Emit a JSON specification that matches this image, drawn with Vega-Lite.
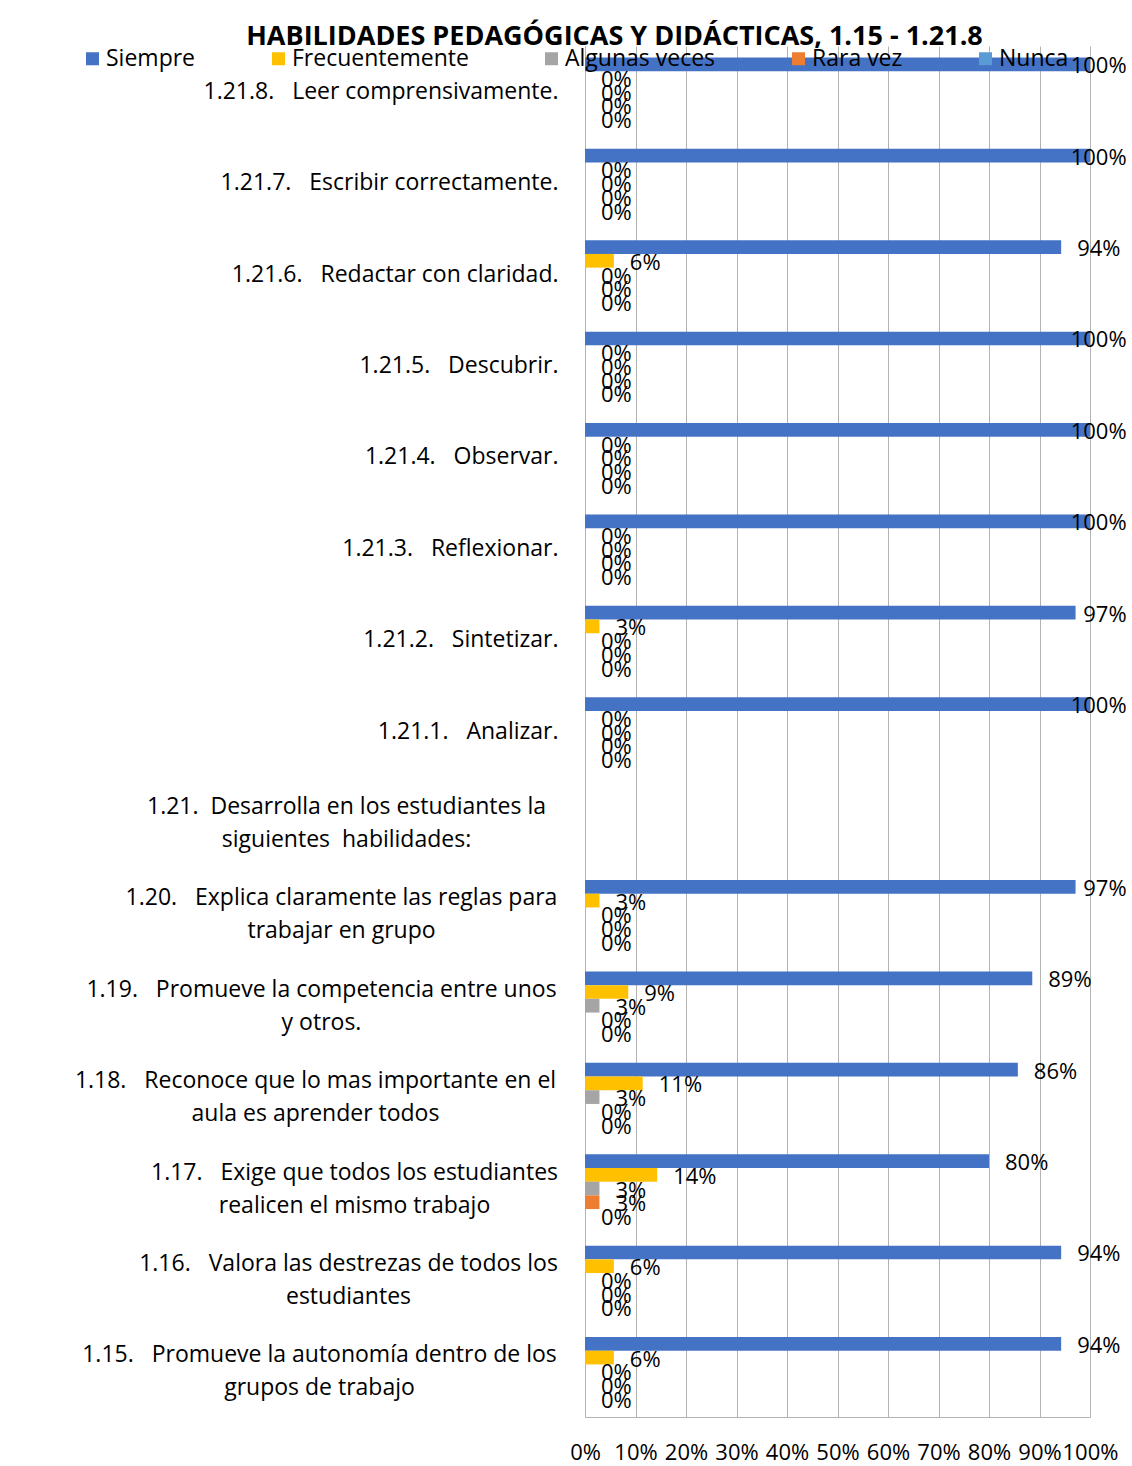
{
  "$schema": "https://vega.github.io/schema/vega-lite/v6.json",
  "width": 505,
  "height": 1371,
  "autosize": {"type": "none"},
  "padding": {"left": 585, "top": 46, "right": 42, "bottom": 49},
  "background": "white",
  "config": {"font": "Open Sans", "view": {"stroke": null}},
  "title": {
    "text": "HABILIDADES PEDAGÓGICAS Y DIDÁCTICAS, 1.15 - 1.21.8",
    "font": "Open Sans", "fontSize": 27, "fontWeight": "bold", "color": "black",
    "anchor": "middle", "frame": "group", "dx": -223, "offset": -5
  },
  "data": {"values": [
    {"c": "1.21.8.\u00a0\u00a0\u00a0Leer comprensivamente.", "s": "Siempre", "v": 1.0},
    {"c": "1.21.8.\u00a0\u00a0\u00a0Leer comprensivamente.", "s": "Frecuentemente", "v": 0},
    {"c": "1.21.8.\u00a0\u00a0\u00a0Leer comprensivamente.", "s": "Algunas veces", "v": 0},
    {"c": "1.21.8.\u00a0\u00a0\u00a0Leer comprensivamente.", "s": "Rara vez", "v": 0},
    {"c": "1.21.8.\u00a0\u00a0\u00a0Leer comprensivamente.", "s": "Nunca", "v": 0},
    {"c": "1.21.7.\u00a0\u00a0\u00a0Escribir correctamente.", "s": "Siempre", "v": 1.0},
    {"c": "1.21.7.\u00a0\u00a0\u00a0Escribir correctamente.", "s": "Frecuentemente", "v": 0},
    {"c": "1.21.7.\u00a0\u00a0\u00a0Escribir correctamente.", "s": "Algunas veces", "v": 0},
    {"c": "1.21.7.\u00a0\u00a0\u00a0Escribir correctamente.", "s": "Rara vez", "v": 0},
    {"c": "1.21.7.\u00a0\u00a0\u00a0Escribir correctamente.", "s": "Nunca", "v": 0},
    {"c": "1.21.6.\u00a0\u00a0\u00a0Redactar con claridad.", "s": "Siempre", "v": 0.9429},
    {"c": "1.21.6.\u00a0\u00a0\u00a0Redactar con claridad.", "s": "Frecuentemente", "v": 0.0571},
    {"c": "1.21.6.\u00a0\u00a0\u00a0Redactar con claridad.", "s": "Algunas veces", "v": 0},
    {"c": "1.21.6.\u00a0\u00a0\u00a0Redactar con claridad.", "s": "Rara vez", "v": 0},
    {"c": "1.21.6.\u00a0\u00a0\u00a0Redactar con claridad.", "s": "Nunca", "v": 0},
    {"c": "1.21.5.\u00a0\u00a0\u00a0Descubrir.", "s": "Siempre", "v": 1.0},
    {"c": "1.21.5.\u00a0\u00a0\u00a0Descubrir.", "s": "Frecuentemente", "v": 0},
    {"c": "1.21.5.\u00a0\u00a0\u00a0Descubrir.", "s": "Algunas veces", "v": 0},
    {"c": "1.21.5.\u00a0\u00a0\u00a0Descubrir.", "s": "Rara vez", "v": 0},
    {"c": "1.21.5.\u00a0\u00a0\u00a0Descubrir.", "s": "Nunca", "v": 0},
    {"c": "1.21.4.\u00a0\u00a0\u00a0Observar.", "s": "Siempre", "v": 1.0},
    {"c": "1.21.4.\u00a0\u00a0\u00a0Observar.", "s": "Frecuentemente", "v": 0},
    {"c": "1.21.4.\u00a0\u00a0\u00a0Observar.", "s": "Algunas veces", "v": 0},
    {"c": "1.21.4.\u00a0\u00a0\u00a0Observar.", "s": "Rara vez", "v": 0},
    {"c": "1.21.4.\u00a0\u00a0\u00a0Observar.", "s": "Nunca", "v": 0},
    {"c": "1.21.3.\u00a0\u00a0\u00a0Reflexionar.", "s": "Siempre", "v": 1.0},
    {"c": "1.21.3.\u00a0\u00a0\u00a0Reflexionar.", "s": "Frecuentemente", "v": 0},
    {"c": "1.21.3.\u00a0\u00a0\u00a0Reflexionar.", "s": "Algunas veces", "v": 0},
    {"c": "1.21.3.\u00a0\u00a0\u00a0Reflexionar.", "s": "Rara vez", "v": 0},
    {"c": "1.21.3.\u00a0\u00a0\u00a0Reflexionar.", "s": "Nunca", "v": 0},
    {"c": "1.21.2.\u00a0\u00a0\u00a0Sintetizar.", "s": "Siempre", "v": 0.9714},
    {"c": "1.21.2.\u00a0\u00a0\u00a0Sintetizar.", "s": "Frecuentemente", "v": 0.0286},
    {"c": "1.21.2.\u00a0\u00a0\u00a0Sintetizar.", "s": "Algunas veces", "v": 0},
    {"c": "1.21.2.\u00a0\u00a0\u00a0Sintetizar.", "s": "Rara vez", "v": 0},
    {"c": "1.21.2.\u00a0\u00a0\u00a0Sintetizar.", "s": "Nunca", "v": 0},
    {"c": "1.21.1.\u00a0\u00a0\u00a0Analizar.", "s": "Siempre", "v": 1.0},
    {"c": "1.21.1.\u00a0\u00a0\u00a0Analizar.", "s": "Frecuentemente", "v": 0},
    {"c": "1.21.1.\u00a0\u00a0\u00a0Analizar.", "s": "Algunas veces", "v": 0},
    {"c": "1.21.1.\u00a0\u00a0\u00a0Analizar.", "s": "Rara vez", "v": 0},
    {"c": "1.21.1.\u00a0\u00a0\u00a0Analizar.", "s": "Nunca", "v": 0},
    {"c": "1.20.\u00a0\u00a0\u00a0Explica claramente las reglas para\ntrabajar en grupo", "s": "Siempre", "v": 0.9714},
    {"c": "1.20.\u00a0\u00a0\u00a0Explica claramente las reglas para\ntrabajar en grupo", "s": "Frecuentemente", "v": 0.0286},
    {"c": "1.20.\u00a0\u00a0\u00a0Explica claramente las reglas para\ntrabajar en grupo", "s": "Algunas veces", "v": 0},
    {"c": "1.20.\u00a0\u00a0\u00a0Explica claramente las reglas para\ntrabajar en grupo", "s": "Rara vez", "v": 0},
    {"c": "1.20.\u00a0\u00a0\u00a0Explica claramente las reglas para\ntrabajar en grupo", "s": "Nunca", "v": 0},
    {"c": "1.19.\u00a0\u00a0\u00a0Promueve la competencia entre unos\ny otros.", "s": "Siempre", "v": 0.8857},
    {"c": "1.19.\u00a0\u00a0\u00a0Promueve la competencia entre unos\ny otros.", "s": "Frecuentemente", "v": 0.0857},
    {"c": "1.19.\u00a0\u00a0\u00a0Promueve la competencia entre unos\ny otros.", "s": "Algunas veces", "v": 0.0286},
    {"c": "1.19.\u00a0\u00a0\u00a0Promueve la competencia entre unos\ny otros.", "s": "Rara vez", "v": 0},
    {"c": "1.19.\u00a0\u00a0\u00a0Promueve la competencia entre unos\ny otros.", "s": "Nunca", "v": 0},
    {"c": "1.18.\u00a0\u00a0\u00a0Reconoce que lo mas importante en el\naula es aprender todos", "s": "Siempre", "v": 0.8571},
    {"c": "1.18.\u00a0\u00a0\u00a0Reconoce que lo mas importante en el\naula es aprender todos", "s": "Frecuentemente", "v": 0.1143},
    {"c": "1.18.\u00a0\u00a0\u00a0Reconoce que lo mas importante en el\naula es aprender todos", "s": "Algunas veces", "v": 0.0286},
    {"c": "1.18.\u00a0\u00a0\u00a0Reconoce que lo mas importante en el\naula es aprender todos", "s": "Rara vez", "v": 0},
    {"c": "1.18.\u00a0\u00a0\u00a0Reconoce que lo mas importante en el\naula es aprender todos", "s": "Nunca", "v": 0},
    {"c": "1.17.\u00a0\u00a0\u00a0Exige que todos los estudiantes\nrealicen el mismo trabajo", "s": "Siempre", "v": 0.8},
    {"c": "1.17.\u00a0\u00a0\u00a0Exige que todos los estudiantes\nrealicen el mismo trabajo", "s": "Frecuentemente", "v": 0.1429},
    {"c": "1.17.\u00a0\u00a0\u00a0Exige que todos los estudiantes\nrealicen el mismo trabajo", "s": "Algunas veces", "v": 0.0286},
    {"c": "1.17.\u00a0\u00a0\u00a0Exige que todos los estudiantes\nrealicen el mismo trabajo", "s": "Rara vez", "v": 0.0286},
    {"c": "1.17.\u00a0\u00a0\u00a0Exige que todos los estudiantes\nrealicen el mismo trabajo", "s": "Nunca", "v": 0},
    {"c": "1.16.\u00a0\u00a0\u00a0Valora las destrezas de todos los\nestudiantes", "s": "Siempre", "v": 0.9429},
    {"c": "1.16.\u00a0\u00a0\u00a0Valora las destrezas de todos los\nestudiantes", "s": "Frecuentemente", "v": 0.0571},
    {"c": "1.16.\u00a0\u00a0\u00a0Valora las destrezas de todos los\nestudiantes", "s": "Algunas veces", "v": 0},
    {"c": "1.16.\u00a0\u00a0\u00a0Valora las destrezas de todos los\nestudiantes", "s": "Rara vez", "v": 0},
    {"c": "1.16.\u00a0\u00a0\u00a0Valora las destrezas de todos los\nestudiantes", "s": "Nunca", "v": 0},
    {"c": "1.15.\u00a0\u00a0\u00a0Promueve la autonomía dentro de los\ngrupos de trabajo", "s": "Siempre", "v": 0.9429},
    {"c": "1.15.\u00a0\u00a0\u00a0Promueve la autonomía dentro de los\ngrupos de trabajo", "s": "Frecuentemente", "v": 0.0571},
    {"c": "1.15.\u00a0\u00a0\u00a0Promueve la autonomía dentro de los\ngrupos de trabajo", "s": "Algunas veces", "v": 0},
    {"c": "1.15.\u00a0\u00a0\u00a0Promueve la autonomía dentro de los\ngrupos de trabajo", "s": "Rara vez", "v": 0},
    {"c": "1.15.\u00a0\u00a0\u00a0Promueve la autonomía dentro de los\ngrupos de trabajo", "s": "Nunca", "v": 0}
  ]},
  "layer": [
    {
      "mark": {"type": "bar"},
      "encoding": {
        "y": {
          "field": "c", "type": "nominal", "title": null,
          "scale": {
            "domain": [
              "1.21.8.\u00a0\u00a0\u00a0Leer comprensivamente.",
              "1.21.7.\u00a0\u00a0\u00a0Escribir correctamente.",
              "1.21.6.\u00a0\u00a0\u00a0Redactar con claridad.",
              "1.21.5.\u00a0\u00a0\u00a0Descubrir.",
              "1.21.4.\u00a0\u00a0\u00a0Observar.",
              "1.21.3.\u00a0\u00a0\u00a0Reflexionar.",
              "1.21.2.\u00a0\u00a0\u00a0Sintetizar.",
              "1.21.1.\u00a0\u00a0\u00a0Analizar.",
              "1.21.\u00a0\u00a0Desarrolla en los estudiantes la\nsiguientes\u00a0\u00a0habilidades:",
              "1.20.\u00a0\u00a0\u00a0Explica claramente las reglas para\ntrabajar en grupo",
              "1.19.\u00a0\u00a0\u00a0Promueve la competencia entre unos\ny otros.",
              "1.18.\u00a0\u00a0\u00a0Reconoce que lo mas importante en el\naula es aprender todos",
              "1.17.\u00a0\u00a0\u00a0Exige que todos los estudiantes\nrealicen el mismo trabajo",
              "1.16.\u00a0\u00a0\u00a0Valora las destrezas de todos los\nestudiantes",
              "1.15.\u00a0\u00a0\u00a0Promueve la autonomía dentro de los\ngrupos de trabajo"
            ],
            "paddingInner": 0.25, "paddingOuter": 0.125
          },
          "axis": {
            "labelExpr": "split(datum.label, '\\n')",
            "labelFont": "Open Sans", "labelFontSize": 23, "labelColor": "black",
            "ticks": false, "tickSize": 0,
            "domainColor": "#B3B3B3", "labelLineHeight": 33,
            "labelBaseline": "middle", "labelLimit": 700,
            "labelAlign": {"condition": {"test": "indexof(datum.value, '\\n') >= 0", "value": "center"}, "value": "right"},
            "labelPadding": {"expr": "indexof(datum.value, 'Desarrolla') >= 0 ? 239 : indexof(datum.value, 'Explica') >= 0 ? 244 : indexof(datum.value, 'competencia') >= 0 ? 264 : indexof(datum.value, 'Reconoce') >= 0 ? 270 : indexof(datum.value, 'Exige') >= 0 ? 231 : indexof(datum.value, 'Valora') >= 0 ? 237 : indexof(datum.value, 'autonom') >= 0 ? 266 : 27"},
            "labelOffset": {"expr": "indexof(datum.value, '\\n') >= 0 ? -16 : 0"}
          }
        },
        "yOffset": {
          "field": "s", "type": "nominal",
          "scale": {"domain": ["Siempre", "Frecuentemente", "Algunas veces", "Rara vez", "Nunca"], "paddingInner": 0, "paddingOuter": 0}
        },
        "x": {
          "field": "v", "type": "quantitative", "title": null,
          "scale": {"domain": [0, 1]},
          "axis": {
            "format": ".0%", "values": [0, 0.1, 0.2, 0.3, 0.4, 0.5, 0.6, 0.7, 0.8, 0.9, 1],
            "grid": true, "gridColor": "#B3B3B3", "domainColor": "#B3B3B3",
            "ticks": false, "tickSize": 0, "labelFont": "Open Sans", "labelFontSize": 22,
            "labelColor": "black", "labelPadding": 35, "labelBaseline": "middle",
            "labelFlush": false, "labelOverlap": false
          }
        },
        "color": {
          "field": "s", "type": "nominal",
          "scale": {
            "domain": ["Siempre", "Frecuentemente", "Algunas veces", "Rara vez", "Nunca"],
            "range": ["#4472C4", "#FFC000", "#A5A5A5", "#ED7D31", "#5B9BD5"]
          },
          "legend": {
            "title": null, "orient": "none", "legendX": -504, "legendY": 1,
            "direction": "horizontal", "symbolType": "square", "symbolSize": 169,
            "symbolStrokeWidth": 0, "labelFont": "Open Sans", "labelFontSize": 23,
            "labelColor": "black", "columnPadding": 71, "labelOffset": 2,
            "padding": 0, "labelLimit": 400
          }
        }
      }
    },
    {
      "transform": [{"calculate": "datum.v >= 0.99 ? 0.93 : min(datum.v, 0.955)", "as": "lx"}],
      "mark": {"type": "text", "align": "left", "baseline": "middle", "dx": 16, "dy": 2, "font": "Open Sans", "fontSize": 22, "color": "black"},
      "encoding": {
        "y": {"field": "c", "type": "nominal"},
        "yOffset": {"field": "s", "type": "nominal"},
        "x": {"field": "lx", "type": "quantitative"},
        "text": {"field": "v", "type": "quantitative", "format": ".0%"}
      }
    }
  ]
}
